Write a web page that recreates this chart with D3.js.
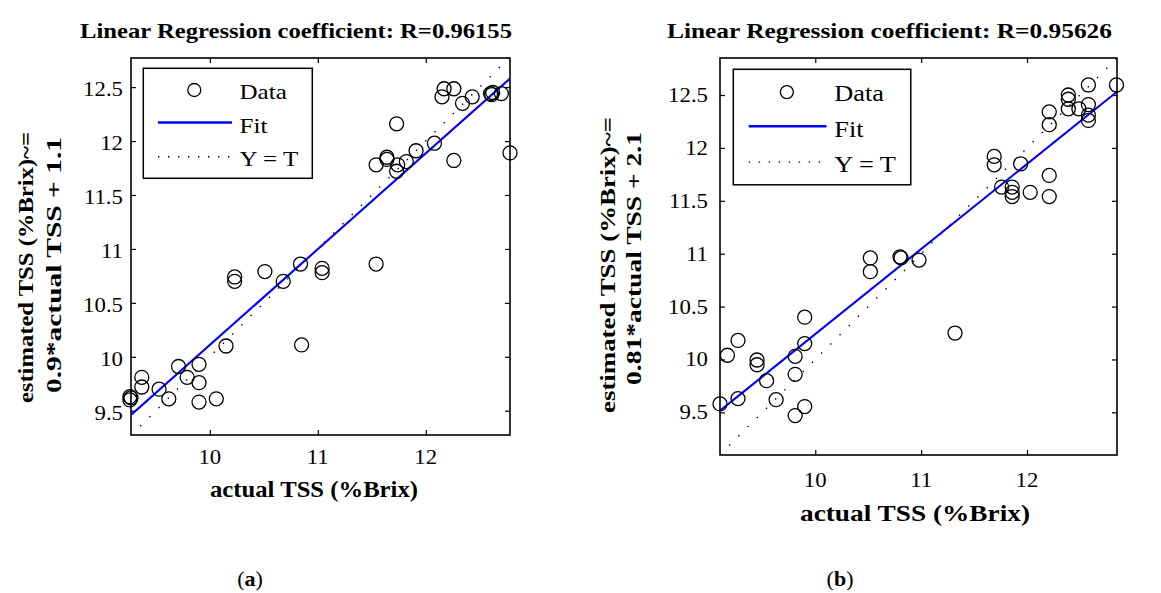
<!DOCTYPE html>
<html><head><meta charset="utf-8">
<script src="https://cdn.jsdelivr.net/npm/d3@7"></script>
<style>body{margin:0;background:#fff}svg{display:block}text{font-family:"Liberation Serif","Times New Roman",serif;fill:#000}</style>
</head><body>
<svg id="c" width="1161" height="593" font-family="Liberation Serif, Times New Roman, serif"></svg>
<script>
// ---------- data ----------
const actualA = [12.17,12.26,12.15,12.34,12.43,12.60,12.61,12.62,12.70,11.73,12.08,11.91,12.26,12.78,11.64,11.64,11.54,11.74,11.82,11.73,11.54,10.84,11.04,11.04,10.68,10.51,10.23,10.23,10.85,10.15,9.71,9.90,9.79,9.90,9.90,9.62,9.53,10.06,9.37,9.37,9.26,9.26,9.27];
const estA    = [12.485,12.485,12.41,12.35,12.41,12.44,12.43,12.45,12.44,12.16,11.98,11.91,11.82,11.89,11.85,11.83,11.78,11.78,11.81,11.72,10.86,10.86,10.82,10.78,10.70,10.79,10.74,10.70,10.11,10.10,9.91,9.93,9.81,9.76,9.58,9.61,9.70,9.61,9.81,9.72,9.63,9.60,9.62];
const actualB = [12.845,12.58,12.39,12.39,12.39,12.49,12.58,12.58,12.58,12.21,12.21,11.69,11.69,11.94,11.76,11.86,11.86,11.86,12.03,12.21,12.21,10.52,10.52,10.80,10.81,10.98,11.32,9.90,9.90,9.81,9.81,9.81,9.90,9.45,9.45,9.54,9.63,9.27,9.17,9.27,9.10];
const estB    = [12.595,12.595,12.50,12.46,12.37,12.37,12.41,12.31,12.26,12.34,12.22,11.92,11.84,11.85,11.63,11.63,11.58,11.54,11.58,11.74,11.54,10.96,10.83,10.97,10.96,10.94,10.25,10.40,10.15,10.03,9.86,9.47,9.555,9.995,9.95,9.80,9.62,10.18,10.04,9.63,9.58];
const fitSlope     = [0.888, 0.804];
const fitIntercept = [1.23, 2.20];
const rValues  = ["0.96155", "0.95626"];
const fitLabels = ["0.9*actual TSS + 1.1", "0.81*actual TSS + 2.1"];
const xTicks = [10, 11, 12];
const yTicks = [9.5, 10, 10.5, 11, 11.5, 12, 12.5];
const legendLabels = ["Data", "Fit", "Y = T"];
const panelLetters = ["a", "b"];
const axisMin = [9.27, 9.10];
const axisMax = [12.78, 12.85];

// ---------- drawing ----------
const svg = d3.select("#c");
const STRETCH = 1.14;
const SERIF = "Liberation Serif, Times New Roman, serif";

const panels = [
  {x: actualA, y: estA, L:131, R:510, T:58, B:435, yMin:9.275, yMax:12.77,
   title:{cx:296, y:38, len:432}, xl:{cx:314, y:497, len:208},
   yl1:{x:33, cy:267.6, len:271}, yl2:{x:61, cy:265, len:256},
   tickY:9, tickXb:29, tickLabOff:8, leg:{x:143.3, y:68.3, s:1.0}, letter:{cx:250}},
  {x: actualB, y: estB, L:720, R:1117, T:58, B:455, yMin:9.097, yMax:12.85,
   title:{cx:889.5, y:38, len:445}, xl:{cx:915, y:521, len:230},
   yl1:{x:615, cy:265, len:296}, yl2:{x:641, cy:258.5, len:253},
   tickY:7, tickXb:32, tickLabOff:12, leg:{x:733.3, y:69.3, s:1.05}, letter:{cx:840}}
];

function stretch(sel){
  sel.each(function(){
    const w = this.getComputedTextLength();
    d3.select(this).attr("textLength", w*STRETCH).attr("lengthAdjust","spacingAndGlyphs");
  });
}

panels.forEach((p, i) => {
  const xs = d3.scaleLinear().domain([axisMin[i], axisMax[i]]).range([p.L, p.R]);
  const ys = d3.scaleLinear().domain([p.yMin, p.yMax]).range([p.B, p.T]);
  const g = svg.append("g").attr("font-family", SERIF);
  const clipId = "clip"+i;
  svg.append("clipPath").attr("id", clipId).append("rect")
    .attr("x", p.L).attr("y", p.T).attr("width", p.R-p.L).attr("height", p.B-p.T);

  // inward ticks on all four sides
  const tickStyle = s => { s.select(".domain").remove(); s.selectAll(".tick line").attr("stroke","#000").attr("stroke-width",1.2); };
  g.append("g").attr("transform",`translate(0,${p.B})`)
    .call(d3.axisBottom(xs).tickValues(xTicks).tickSizeInner(-5).tickSizeOuter(0).tickFormat(""))
    .call(tickStyle);
  g.append("g").attr("transform",`translate(0,${p.T})`)
    .call(d3.axisTop(xs).tickValues(xTicks).tickSizeInner(-5).tickSizeOuter(0).tickFormat(""))
    .call(tickStyle);
  g.append("g").attr("transform",`translate(${p.L},0)`)
    .call(d3.axisLeft(ys).tickValues(yTicks).tickSizeInner(-5).tickSizeOuter(0).tickFormat(""))
    .call(tickStyle);
  g.append("g").attr("transform",`translate(${p.R},0)`)
    .call(d3.axisRight(ys).tickValues(yTicks).tickSizeInner(-5).tickSizeOuter(0).tickFormat(""))
    .call(tickStyle);

  // tick labels
  const xl = g.append("g").selectAll("text").data(xTicks).join("text")
    .attr("font-family", SERIF)
    .attr("x", d => xs(d)).attr("y", p.B + p.tickXb)
    .attr("text-anchor","middle").attr("font-size",20).text(d => d);
  stretch(xl);
  const yl = g.append("g").selectAll("text").data(yTicks).join("text")
    .attr("font-family", SERIF)
    .attr("x", p.L - p.tickLabOff).attr("y", d => ys(d) + p.tickY)
    .attr("text-anchor","end").attr("font-size",20).text(d => d);
  stretch(yl);

  // Y = T line
  const dom = xs.domain();
  g.append("line").attr("clip-path",`url(#${clipId})`)
    .attr("x1", xs(dom[0])).attr("y1", ys(dom[0])).attr("x2", xs(dom[1])).attr("y2", ys(dom[1]))
    .attr("stroke","#000").attr("stroke-width",1.4).attr("stroke-dasharray","1.4,11.6");

  // fit line
  const f = v => fitSlope[i]*v + fitIntercept[i];
  g.append("line").attr("clip-path",`url(#${clipId})`)
    .attr("x1", xs(dom[0])).attr("y1", ys(f(dom[0]))).attr("x2", xs(dom[1])).attr("y2", ys(f(dom[1])))
    .attr("stroke","#0000ff").attr("stroke-width",2.1);

  // data circles
  g.append("g").selectAll("circle").data(p.x.map((v,k)=>[v,p.y[k]])).join("circle")
    .attr("cx", d => xs(d[0])).attr("cy", d => ys(d[1])).attr("r",7)
    .attr("fill","none").attr("stroke","#000").attr("stroke-width",1.3);

  // frame
  g.append("rect").attr("x",p.L).attr("y",p.T).attr("width",p.R-p.L).attr("height",p.B-p.T)
    .attr("fill","none").attr("stroke","#000").attr("stroke-width",1.6);

  // legend
  const s = p.leg.s, lx = p.leg.x, ly = p.leg.y;
  const lg = g.append("g");
  lg.append("rect").attr("x",lx).attr("y",ly).attr("width",169*s).attr("height",110*s)
    .attr("fill","#fff").attr("stroke","#000").attr("stroke-width",1.5);
  lg.append("circle").attr("cx",lx+51*s).attr("cy",ly+21.7*s).attr("r",6.5)
    .attr("fill","none").attr("stroke","#000").attr("stroke-width",1.3);
  lg.append("line").attr("x1",lx+14.7*s).attr("x2",lx+88.7*s).attr("y1",ly+54.2*s).attr("y2",ly+54.2*s)
    .attr("stroke","#0000ff").attr("stroke-width",2.4);
  lg.append("line").attr("x1",lx+14.7*s).attr("x2",lx+88.7*s).attr("y1",ly+88.4*s).attr("y2",ly+88.4*s)
    .attr("stroke","#000").attr("stroke-width",1.4).attr("stroke-dasharray","1.4,8.6");
  const base = [30.4, 64.7, 97.7];
  const lt = lg.selectAll("text.leg").data(legendLabels).join("text").attr("class","leg")
    .attr("font-family", SERIF)
    .attr("x", lx+96.2*s).attr("y",(d,k)=>ly+base[k]*s).attr("font-size",22*s).text(d=>d);
  stretch(lt);

  // title
  g.append("text").attr("x",p.title.cx).attr("y",p.title.y).attr("text-anchor","middle")
    .attr("font-family", SERIF).attr("font-size",22).attr("font-weight","bold")
    .attr("textLength",p.title.len).attr("lengthAdjust","spacingAndGlyphs")
    .text("Linear Regression coefficient: R=" + rValues[i]);

  // x label
  g.append("text").attr("x",p.xl.cx).attr("y",p.xl.y).attr("text-anchor","middle")
    .attr("font-family", SERIF).attr("font-size",23).attr("font-weight","bold")
    .attr("textLength",p.xl.len).attr("lengthAdjust","spacingAndGlyphs")
    .text("actual TSS (%Brix)");

  // y label (two lines)
  g.append("text").attr("transform",`translate(${p.yl1.x},${p.yl1.cy}) rotate(-90)`)
    .attr("font-family", SERIF).attr("text-anchor","middle").attr("font-size",20).attr("font-weight","bold")
    .attr("textLength",p.yl1.len).attr("lengthAdjust","spacingAndGlyphs")
    .text("estimated TSS (%Brix)~=");
  g.append("text").attr("transform",`translate(${p.yl2.x},${p.yl2.cy}) rotate(-90)`)
    .attr("font-family", SERIF).attr("text-anchor","middle").attr("font-size",20).attr("font-weight","bold")
    .attr("textLength",p.yl2.len).attr("lengthAdjust","spacingAndGlyphs")
    .text(fitLabels[i]);

  // panel letter
  const pl = svg.append("text").attr("x",p.letter.cx).attr("y",586).attr("text-anchor","middle")
    .attr("font-family", SERIF).attr("font-size",22);
  pl.append("tspan").text("(");
  pl.append("tspan").attr("font-weight","bold").text(panelLetters[i]);
  pl.append("tspan").text(")");
});
</script>
</body></html>
